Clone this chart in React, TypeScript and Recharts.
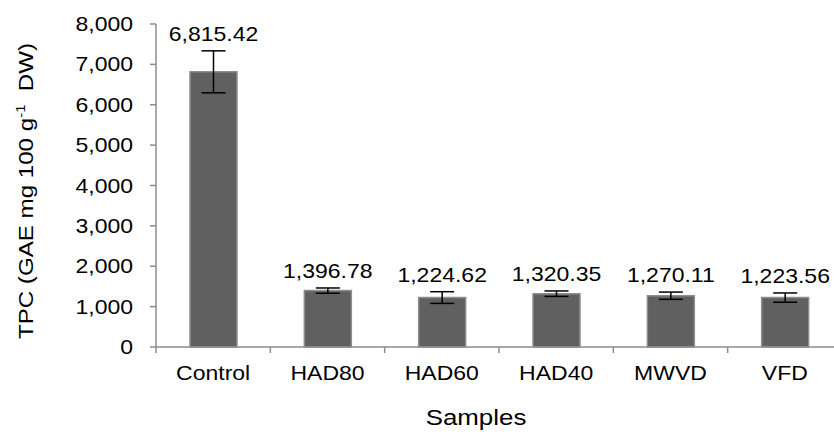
import React from "react";
import { BarChart, Bar, XAxis, YAxis, ErrorBar, LabelList } from "recharts";

const samples = ["Control", "HAD80", "HAD60", "HAD40", "MWVD", "VFD"];
const tpc = [6815.42, 1396.78, 1224.62, 1320.35, 1270.11, 1223.56];
const tpcErr = [520, 65, 145, 68, 90, 115];
const yTicks = [0, 1000, 2000, 3000, 4000, 5000, 6000, 7000, 8000];

const data = samples.map((name, i) => ({ name, tpc: tpc[i], err: tpcErr[i] }));

const FONT = "'Liberation Sans', Arial, sans-serif";
const AXIS = "#8c8c8c";
const FS = 20;
const SX = 1.15; // the source text is a bit wider than Arial

const fmtInt = (v: number) => v.toLocaleString("en-US");
const fmtVal = (v: number) =>
  v.toLocaleString("en-US", { minimumFractionDigits: 2, maximumFractionDigits: 2 });

const Txt = ({ x, y, anchor = "middle", size = FS, children }: any) => (
  <text
    transform={`translate(${x},${y}) scale(${SX},1)`}
    textAnchor={anchor}
    fontFamily={FONT}
    fontSize={size}
    fill="#000"
  >
    {children}
  </text>
);

const CategoryTick = (props: any) => {
  const { x, y, payload } = props;
  const half = payload && payload.offset ? payload.offset : 57;
  return (
    <g>
      <line x1={x - half} x2={x - half} y1={y - 8} y2={y - 2} stroke={AXIS} strokeWidth={1.5} />
      <Txt x={x} y={y + 25}>{payload.value}</Txt>
    </g>
  );
};

const ValueTick = (props: any) => {
  const { x, y, payload } = props;
  return (
    <Txt x={x} y={y + 7} anchor="end">
      {fmtInt(payload.value)}
    </Txt>
  );
};

const ValueLabel = (props: any) => {
  const { x, y, width, height, value, index } = props;
  const perUnit = value ? height / value : 0;
  const errTop = y - tpcErr[index] * perUnit;
  return (
    <Txt x={x + width / 2} y={errTop - 10}>
      {fmtVal(value)}
    </Txt>
  );
};

export default function App() {
  return (
    <div style={{ position: "absolute", left: 0, top: 0, width: 834, height: 432, overflow: "hidden", background: "#fff" }}>
      <BarChart width={850} height={432} data={data} margin={{ top: 24, right: 8, bottom: 35, left: 0 }}>
        <XAxis
          dataKey="name"
          stroke={AXIS}
          strokeWidth={1.5}
          tickLine={false}
          tick={<CategoryTick />}
          height={50}
        />
        <YAxis
          width={156}
          domain={[0, 8000]}
          ticks={yTicks}
          interval={0}
          stroke={AXIS}
          strokeWidth={1.5}
          tickSize={6}
          tickMargin={17}
          tick={<ValueTick />}
        />
        <Bar dataKey="tpc" fill="#606060" stroke="#8e8e8e" strokeWidth={1.5} barSize={47} isAnimationActive={false}>
          <ErrorBar dataKey="err" width={12} stroke="#000" strokeWidth={1.5} isAnimationActive={false} />
          <LabelList dataKey="tpc" content={<ValueLabel />} />
        </Bar>
      </BarChart>
      <svg width={834} height={432} style={{ position: "absolute", left: 0, top: 0, pointerEvents: "none" }}>
        <Txt x={476} y={425} size={22.5}>Samples</Txt>
        <text
          transform={`translate(33,191) rotate(-90) scale(${SX},1)`}
          textAnchor="middle"
          fontFamily={FONT}
          fontSize={21}
          fill="#000"
        >
          TPC (GAE mg 100 g
          <tspan fontSize={13} dy={-8}>-1</tspan>
          <tspan dy={8}>{"\u00a0\u00a0DW)"}</tspan>
        </text>
      </svg>
    </div>
  );
}
